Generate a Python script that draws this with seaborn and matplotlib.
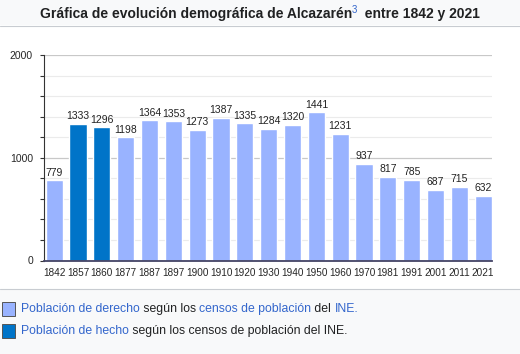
import matplotlib
matplotlib.use('Agg')
import matplotlib.pyplot as plt
import matplotlib.patches as mpatches
import pandas as pd
import seaborn as sns

# Datos del censo
anios = ['1842', '1857', '1860', '1877', '1887', '1897', '1900', '1910', '1920', '1930',
         '1940', '1950', '1960', '1970', '1981', '1991', '2001', '2011', '2021']
poblacion = [779, 1333, 1296, 1198, 1364, 1353, 1273, 1387, 1335, 1284,
             1320, 1441, 1231, 937, 817, 785, 687, 715, 632]
tipo = ['derecho', 'hecho', 'hecho'] + ['derecho'] * 16

azul_claro = '#99b3ff'
azul_oscuro = '#0074c8'
azul_link = '#3366cc'

df = pd.DataFrame({'anio': anios, 'poblacion': poblacion, 'tipo': tipo})

sns.set_style('white')
plt.rcParams['font.family'] = ['Liberation Sans', 'DejaVu Sans']

fig = plt.figure(figsize=(5.2, 3.54), dpi=100)
fig.patch.set_facecolor('white')

# franjas grises del encabezado y de la leyenda
fig.patches.append(mpatches.Rectangle((0, 1 - 25 / 354), 1, 25 / 354, transform=fig.transFigure,
                                      facecolor='#f8f9fa', edgecolor='none', zorder=0))
fig.patches.append(mpatches.Rectangle((0, 0), 1, 65 / 354, transform=fig.transFigure,
                                      facecolor='#f8f9fa', edgecolor='none', zorder=0))
fig.lines.append(plt.Line2D([0, 1], [1 - 25.5 / 354] * 2, transform=fig.transFigure, color='#c8ccd1', lw=0.8))
fig.lines.append(plt.Line2D([0, 1], [65 / 354] * 2, transform=fig.transFigure, color='#c8ccd1', lw=0.8))

ax = fig.add_axes([44 / 520, 1 - 260.5 / 354, 448 / 520, 205.5 / 354])
sns.barplot(data=df, x='anio', y='poblacion', hue='tipo', dodge=False, width=0.72,
            palette={'derecho': azul_claro, 'hecho': azul_oscuro}, saturation=1,
            legend=False, ax=ax)

ax.set_ylim(0, 2000)
ax.set_xlim(-0.43, len(anios) - 1 + 0.37)
ax.set_yticks([0, 1000, 2000])
ax.set_yticks(range(0, 2001, 200), minor=True)
ax.grid(axis='y', which='minor', color='#ebebeb', lw=0.8)
ax.grid(axis='y', which='major', color='#c8c8c8', lw=0.9)
ax.set_axisbelow(True)
ax.set_xlabel('')
ax.set_ylabel('')
for s in ['top', 'right']:
    ax.spines[s].set_visible(False)
ax.spines['left'].set_color('#333333')
ax.spines['bottom'].set_color('#444466')
ax.spines['bottom'].set_linewidth(1.3)
ax.tick_params(axis='y', which='both', left=True, length=3, width=0.8, color='#333333',
               labelsize=7.5, pad=5)
ax.tick_params(axis='x', bottom=False, labelsize=7.2, pad=2)
ax.set_facecolor('none')

for c in ax.containers:
    ax.bar_label(c, fmt='%d', fontsize=7.5, padding=2, color='#222222')

# titulo con superindice
renderer = fig.canvas.get_renderer()
t1 = fig.text(0, 1 - 14 / 354, 'Gráfica de evolución demográfica de Alcazarén', fontsize=10,
              fontweight='bold', color='#202122', va='center')
t2 = fig.text(0, 1 - 10 / 354, '3', fontsize=7, color=azul_link, va='center')
t3 = fig.text(0, 1 - 14 / 354, '  entre 1842 y 2021', fontsize=10, fontweight='bold',
              color='#202122', va='center')
w = [t.get_window_extent(renderer).width for t in (t1, t2, t3)]
x = (520 - sum(w)) / 2
for t, wi in zip((t1, t2, t3), w):
    t.set_x(x / 520)
    x += wi

# leyenda
lineas = [
    (azul_claro, 1 - 309 / 354, [('Población de derecho', azul_link), (' según los ', '#202122'),
                                 ('censos de población', azul_link), (' del ', '#202122'),
                                 ('INE.', azul_link)]),
    (azul_oscuro, 1 - 331 / 354, [('Población de hecho', azul_link),
                                  (' según los censos de población del INE.', '#202122')]),
]
for color, y, partes in lineas:
    fig.patches.append(mpatches.Rectangle((2 / 520, y - 7 / 354), 13 / 520, 14 / 354,
                                          transform=fig.transFigure, facecolor=color,
                                          edgecolor='#555555', lw=0.7))
    x = 21
    for texto, col in partes:
        t = fig.text(x / 520, y, texto, fontsize=8.8, color=col, va='center')
        x += t.get_window_extent(renderer).width

fig.savefig('out.png', dpi=100)
